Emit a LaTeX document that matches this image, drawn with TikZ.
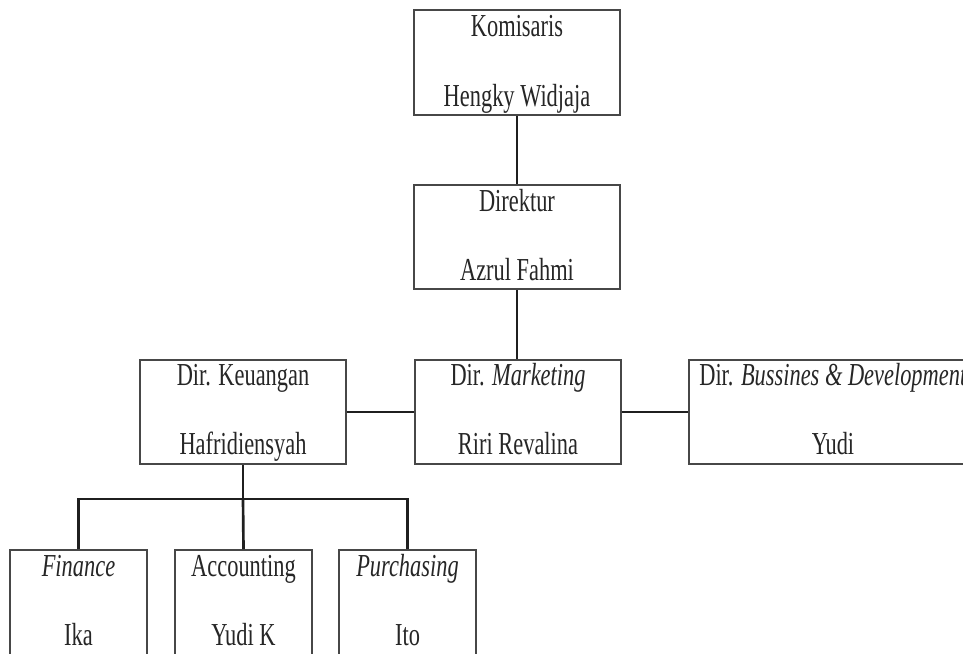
\documentclass[tikz,border=0pt]{standalone}
\usepackage{fontspec}
\setmainfont[FakeStretch=0.7]{Liberation Serif}
\usetikzlibrary{fit}
\begin{document}
\begin{tikzpicture}[x=0.75pt,y=-0.75pt,
  box/.style={draw=black!72,line width=1.4pt,inner sep=0pt,fill=white},
  conn/.style={draw=black!88,line width=2pt},
  txt/.style={anchor=base,inner sep=0pt,text=black!85,font=\fontsize{24pt}{28pt}\selectfont}]
\clip (0,0) rectangle (963,653);
\fill[white] (0,0) rectangle (963,653);
% boxes
\node[box,fit={(414,10) (620,115)}] (k) {};
\node[box,fit={(414,185) (620,289)}] (d) {};
\node[box,fit={(140,360) (346,464)}] (ku) {};
\node[box,fit={(415,360) (621,464)}] (m) {};
\node[box,fit={(689,360) (977,464)}] (b) {};
\node[box,fit={(10,550) (147,655)}] (f) {};
\node[box,fit={(175,550) (312,655)}] (a) {};
\node[box,fit={(339,550) (476,655)}] (p) {};
% texts
\node[txt] (k1) at ([yshift=-27*0.75pt]k.north) {Komisaris};
\node[txt] (k2) at ([yshift=9*0.75pt]k.south) {Hengky Widjaja};
\node[txt] (d1) at ([yshift=-27*0.75pt]d.north) {Direktur};
\node[txt] (d2) at ([yshift=9*0.75pt]d.south) {Azrul Fahmi};
\node[txt] (ku1) at ([yshift=-26*0.75pt]ku.north) {Dir. Keuangan};
\node[txt] (ku2) at ([yshift=10*0.75pt]ku.south) {Hafridiensyah};
\node[txt] (m1) at ([yshift=-26*0.75pt]m.north) {Dir. \textit{Marketing}};
\node[txt] (m2) at ([yshift=10*0.75pt]m.south) {Riri Revalina};
\node[txt] (b1) at ([yshift=-26*0.75pt]b.north) {Dir. \textit{Bussines \& Development}};
\node[txt] (b2) at ([yshift=10*0.75pt]b.south) {Yudi};
\node[txt] (f1) at ([yshift=-27*0.75pt]f.north) {\textit{Finance}};
\node[txt] (f2) at ([yshift=10*0.75pt]f.south) {Ika};
\node[txt] (a1) at ([yshift=-27*0.75pt]a.north) {Accounting};
\node[txt] (a2) at ([yshift=10*0.75pt]a.south) {Yudi K};
\node[txt] (p1) at ([yshift=-27*0.75pt]p.north) {\textit{Purchasing}};
\node[txt] (p2) at ([yshift=10*0.75pt]p.south) {Ito};
% connectors
\coordinate (bus) at (243,499);
\draw[conn] (k.south) -- (d.north);
\draw[conn] (d.south) -- (d.south |- m.north);
\draw[conn] (ku.east) -- (m.west);
\draw[conn] (m.east) -- (b.west);
\draw[conn] (ku.south) -- (ku.south |- bus);
\draw[conn] (f.north) |- (bus) -| (p.north);
\draw[conn] (bus) -- (a.north);
\end{tikzpicture}
\end{document}
